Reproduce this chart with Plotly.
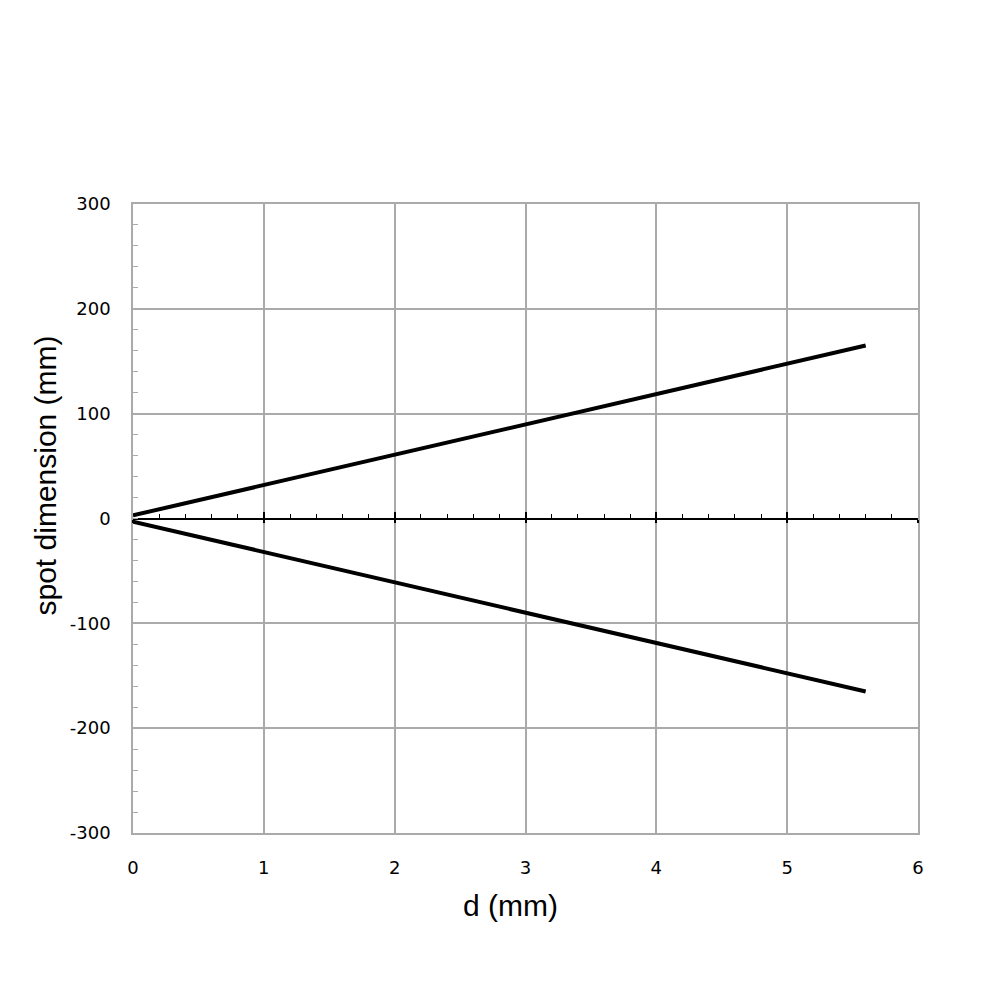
import plotly.graph_objects as go

# distance d (mm) and half spot size (mm)
d_mm = [0, 1, 2, 3, 4, 5, 5.6]
spot_upper = [3, 32, 61, 90, 119, 148, 165]
spot_lower = [-3, -32, -61, -90, -119, -148, -165]

x_ticks = [0, 1, 2, 3, 4, 5, 6]
y_ticks = [-300, -200, -100, 0, 100, 200, 300]

GRID = "#aaaaaa"
TICK_FONT = dict(family="DejaVu Sans", size=18, color="black")
TITLE_FONT = dict(family="Liberation Sans", size=30, color="black")

fig = go.Figure()
for ys in (spot_upper, spot_lower):
    fig.add_trace(go.Scatter(
        x=d_mm, y=ys, mode="lines",
        line=dict(color="black", width=4),
        showlegend=False, hoverinfo="skip",
    ))

fig.update_layout(
    width=1000, height=1000,
    margin=dict(l=125, r=90, t=196, b=175),
    paper_bgcolor="white", plot_bgcolor="white",
    xaxis=dict(
        range=[0, 6], tickvals=x_ticks, ticktext=[str(v) for v in x_ticks],
        showgrid=True, gridcolor=GRID, gridwidth=1.5,
        showline=True, linecolor=GRID, linewidth=1.5, mirror=True,
        ticks="", zeroline=False, tickfont=TICK_FONT, ticklabelstandoff=18,
    ),
    yaxis=dict(
        range=[-300, 300], tickvals=y_ticks, ticktext=[str(v) for v in y_ticks],
        showgrid=True, gridcolor=GRID, gridwidth=1.5,
        showline=True, linecolor=GRID, linewidth=1.5, mirror=True,
        ticks="inside", ticklen=0, tickcolor=GRID,
        minor=dict(dtick=20, ticks="inside", ticklen=5, tickcolor=GRID, tickwidth=1, showgrid=False),
        zeroline=True, zerolinecolor="black", zerolinewidth=1.5,
        tickfont=TICK_FONT, ticklabelstandoff=17,
    ),
    # tick marks along the zero line
    xaxis2=dict(
        range=[0, 6], overlaying="x", anchor="free", position=0.5, side="bottom",
        tickvals=x_ticks, showticklabels=False, showgrid=False, zeroline=False, showline=False,
        ticks="inside", ticklen=7, tickwidth=1.5, tickcolor="black",
        minor=dict(dtick=0.2, ticks="inside", ticklen=5, tickwidth=1.2, tickcolor="black", showgrid=False),
    ),
    xaxis3=dict(
        range=[0, 6], overlaying="x", anchor="free", position=0.5, side="bottom",
        tickvals=x_ticks, showticklabels=False, showgrid=False, zeroline=False, showline=False,
        ticks="outside", ticklen=3, tickwidth=1.5, tickcolor="black",
    ),
    annotations=[
        dict(text="d (mm)", font=TITLE_FONT, showarrow=False,
             xref="paper", yref="paper", x=0.5, y=0, xanchor="center", yanchor="middle",
             xshift=-15, yshift=-72),
        dict(text="spot dimension (mm)", font=TITLE_FONT, showarrow=False, textangle=-90,
             xref="paper", yref="paper", x=0, y=0.5, xanchor="center", yanchor="middle",
             xshift=-88, yshift=43),
    ],
)

# dummy traces so the overlay axes are drawn
fig.add_trace(go.Scatter(x=[None], y=[None], xaxis="x2", showlegend=False, hoverinfo="skip"))
fig.add_trace(go.Scatter(x=[None], y=[None], xaxis="x3", showlegend=False, hoverinfo="skip"))

fig.write_html("out.html")
